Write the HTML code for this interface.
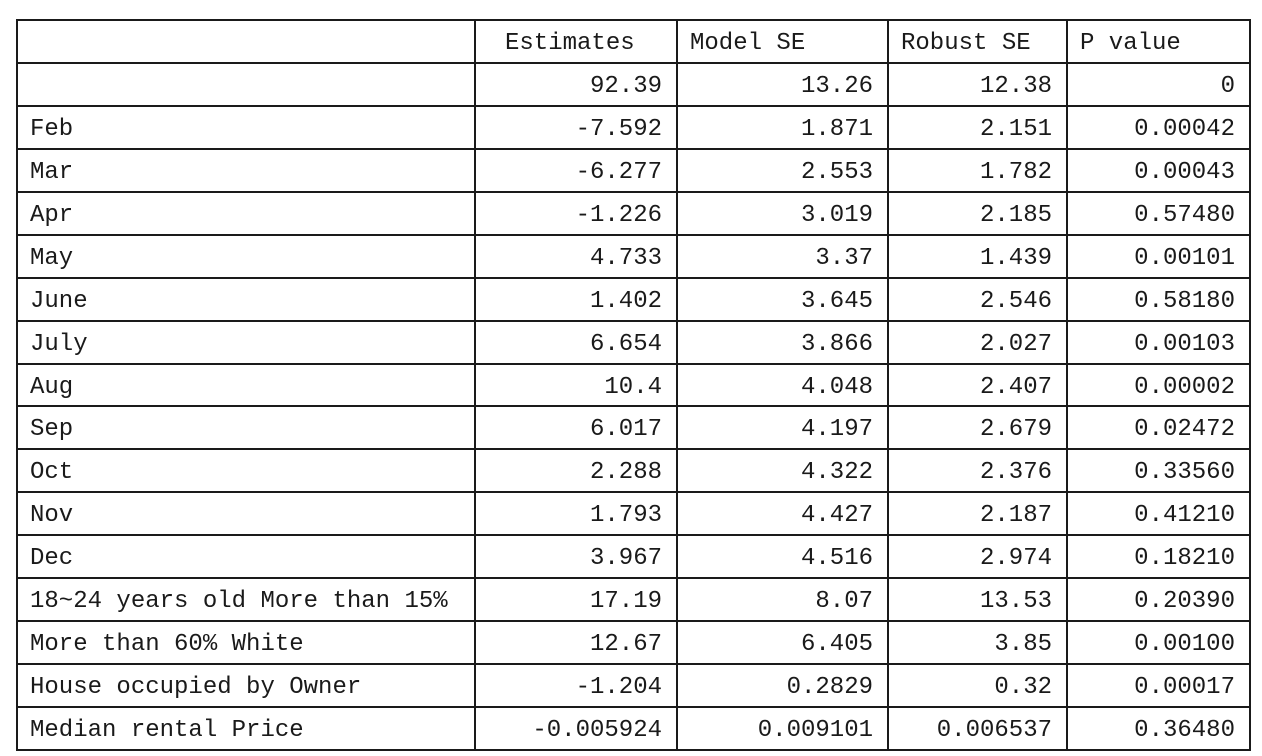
<!DOCTYPE html>
<html><head><meta charset="utf-8"><style>
html,body{margin:0;padding:0;background:#fff;width:1262px;height:753px;overflow:hidden}
#t{position:absolute;left:0;top:0;width:1262px;height:753px;font-family:"Liberation Mono","Noto Sans CJK SC",monospace;font-size:24px;color:#1a1a1a}
.h{position:absolute;height:2px;background:#1a1a1a}
.v{position:absolute;width:2px;background:#1a1a1a}
.c{position:absolute;height:43px;line-height:50px;white-space:pre}
</style></head><body>
<div id="t"></div>
<script>
const headers=["","Estimates","Model SE","Robust SE","P value"];
const labels=["","Feb","Mar","Apr","May","June","July","Aug","Sep","Oct","Nov","Dec","18~24 years old More than 15%","More than 60% White","House occupied by Owner","Median rental Price"];
const estimates=["92.39","-7.592","-6.277","-1.226","4.733","1.402","6.654","10.4","6.017","2.288","1.793","3.967","17.19","12.67","-1.204","-0.005924"];
const modelSE=["13.26","1.871","2.553","3.019","3.37","3.645","3.866","4.048","4.197","4.322","4.427","4.516","8.07","6.405","0.2829","0.009101"];
const robustSE=["12.38","2.151","1.782","2.185","1.439","2.546","2.027","2.407","2.679","2.376","2.187","2.974","13.53","3.85","0.32","0.006537"];
const pvals=["0","0.00042","0.00043","0.57480","0.00101","0.58180","0.00103","0.00002","0.02472","0.33560","0.41210","0.18210","0.20390","0.00100","0.00017","0.36480"];
const colX=[16,474,676,887,1066,1249];
const top0=19, rowH=42.94, nRows=17;
const t=document.getElementById('t');
function add(cls,css){const d=document.createElement('div');d.className=cls;Object.assign(d.style,css);t.appendChild(d);return d;}
for(let i=0;i<=nRows;i++){
  const l=add('h',{left:colX[0]+'px',top:Math.round(top0+i*rowH)+'px',width:(colX[5]-colX[0]+2)+'px'});
  
  
}
for(let j=0;j<colX.length;j++){
  const l=add('v',{left:colX[j]+'px',top:top0+'px',height:Math.round(nRows*rowH+2)+'px'});
  
  
}
const hx=[30,505,690,901,1080];
for(let j=1;j<headers.length;j++){
  const d=add('c',{left:hx[j]+'px',top:top0+'px'});
  d.textContent=headers[j];
  
  
}
const cols=[estimates,modelSE,robustSE,pvals];
for(let i=0;i<labels.length;i++){
  const y=Math.round(top0+(i+1)*rowH);
  const lb=add('c',{left:'30px',top:y+'px'});
  lb.textContent=labels[i];
  
  
  for(let j=0;j<4;j++){
    const d=add('c',{right:(1262-colX[j+2]+14)+'px',top:y+'px',textAlign:'right'});
    d.textContent=cols[j][i];
    
    
  }
}
</script>
</body></html>
